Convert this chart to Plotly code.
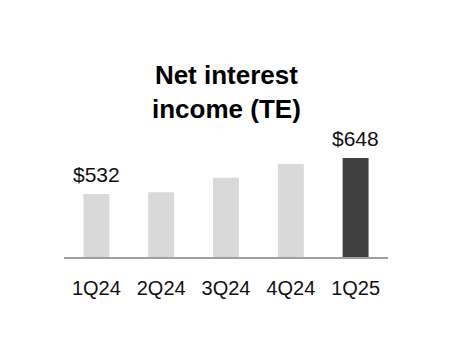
import plotly.graph_objects as go

categories = ["1Q24", "2Q24", "3Q24", "4Q24", "1Q25"]
values = [532, 538, 584, 629, 648]
bar_colors = ["#d9d9d9", "#d9d9d9", "#d9d9d9", "#d9d9d9", "#404040"]
labels = ["$532", "", "", "", "$648"]
title_text = "<b>Net interest<br>income (TE)</b>"

FONT = "Liberation Sans, Arial, sans-serif"

fig = go.Figure()
fig.add_trace(go.Bar(
    x=categories, y=values,
    marker=dict(color=bar_colors, line=dict(width=0)),
    hoverinfo="skip",
))

for c, v, t in zip(categories, values, labels):
    if t:
        fig.add_annotation(x=c, y=v, text=t, showarrow=False,
                           yanchor="bottom", yshift=6,
                           font=dict(family=FONT, size=21, color="#111111"))

fig.add_annotation(xref="paper", yref="paper", x=0.5, y=1.054,
                   text=title_text, showarrow=False, yanchor="middle",
                   font=dict(family=FONT, size=26, color="#000000"))

ppu = 0.3103
plot_h = 157
y0 = 329
fig.update_layout(
    width=452, height=360,
    margin=dict(l=64, r=64, t=100, b=103),
    paper_bgcolor="white", plot_bgcolor="white",
    bargap=0.6,
    showlegend=False,
    xaxis=dict(showline=True, linecolor="#a0a0a0", linewidth=2,
               ticks="outside", ticklen=12, tickcolor="rgba(0,0,0,0)",
               tickfont=dict(family=FONT, size=20, color="#111111"),
               showgrid=False, zeroline=False, fixedrange=True),
    yaxis=dict(range=[y0, y0 + plot_h / ppu], visible=False,
               showgrid=False, zeroline=False, fixedrange=True),
)

fig.write_html("out.html")
